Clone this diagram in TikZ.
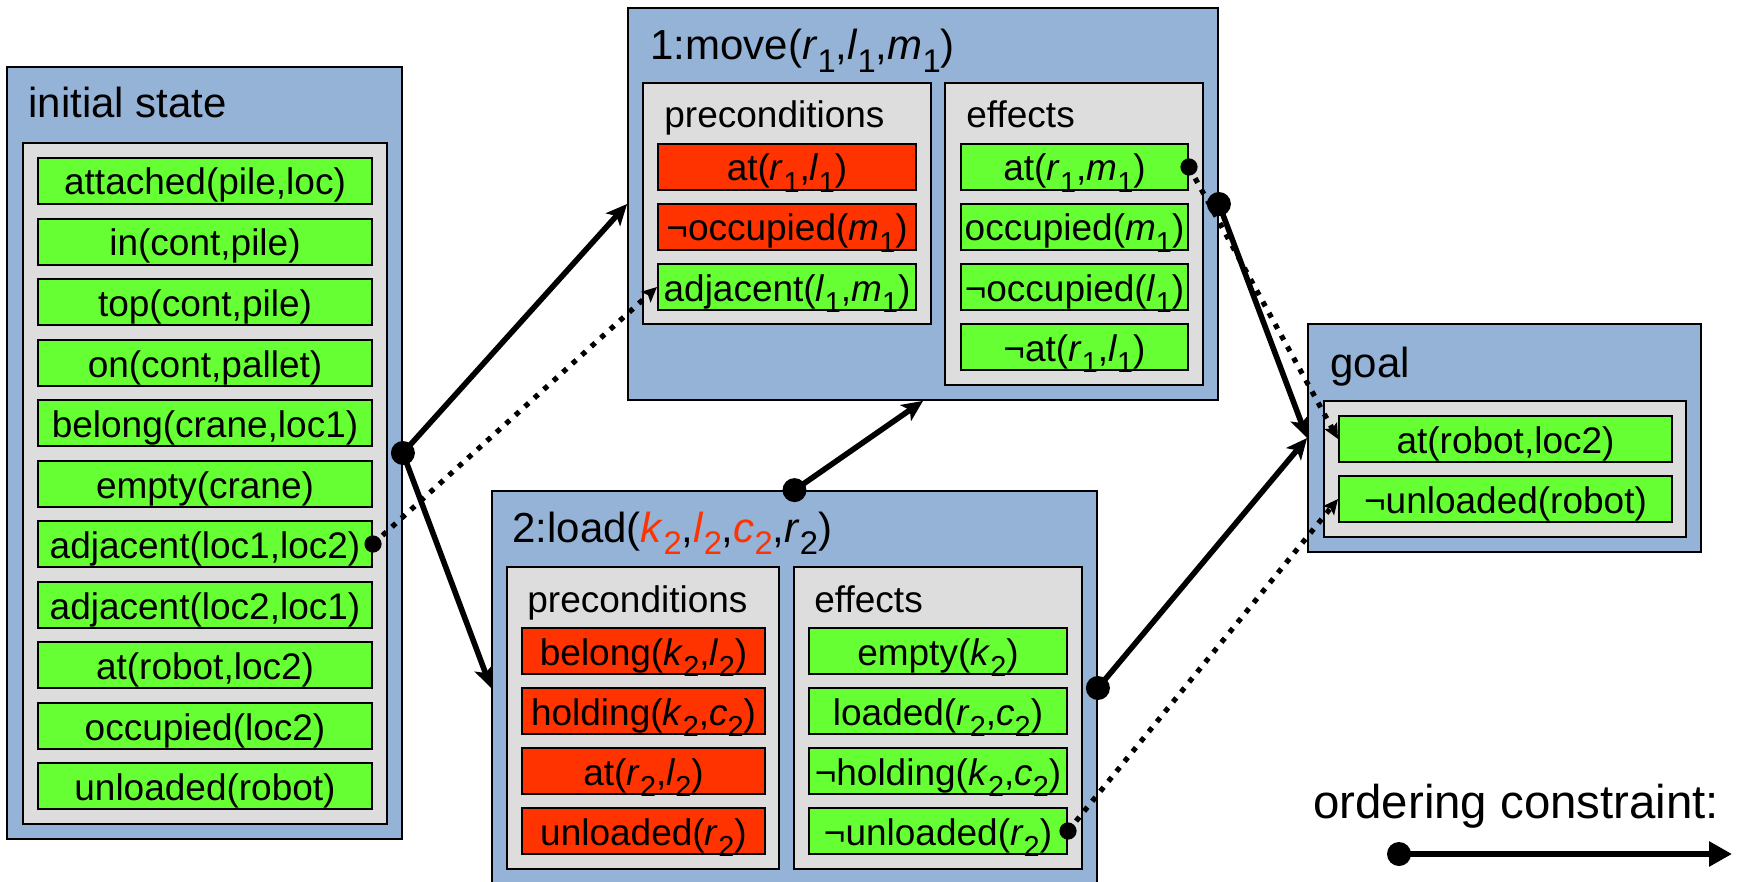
\documentclass[tikz,border=0pt]{standalone}
\usepackage{fontspec}
\setmainfont{Liberation Sans}
\usetikzlibrary{arrows.meta,fit}
\definecolor{boxblue}{HTML}{95B3D7}
\definecolor{boxgray}{HTML}{DDDDDD}
\definecolor{itemgreen}{HTML}{66FF33}
\definecolor{itemred}{HTML}{FF3300}
\definecolor{hired}{HTML}{FF3300}
\newcommand\subdig[1]{\raisebox{-0.3em}{\scalebox{0.78}{#1}}}
\newcommand\sbv[2]{\textit{#1}\subdig{#2}}
\newcommand\rsbv[2]{\textcolor{hired}{\textit{#1}\subdig{#2}}}
\newcommand\itemfont{\fontsize{18.5pt}{21pt}\selectfont}
\newcommand\titlefont{\fontsize{21pt}{24pt}\selectfont}
\newcommand\legfont{\fontsize{23.7pt}{27pt}\selectfont}
\begin{document}
\begin{tikzpicture}[x=0.5pt,y=-0.5pt,
  bluebox/.style={draw=black, line width=0.9pt, fill=boxblue, inner sep=0pt},
  graybox/.style={draw=black, line width=0.9pt, fill=boxgray, inner sep=0pt},
  gitem/.style={draw=black, line width=1pt, fill=itemgreen, inner sep=0pt, font=\itemfont},
  ritem/.style={draw=black, line width=1pt, fill=itemred, inner sep=0pt, font=\itemfont},
  tpos/.style={text height=18.5pt, text depth=4.5pt},
  boxtitle/.style={anchor=base west, inner sep=0pt, font=\titlefont},
  subtitle/.style={anchor=base west, inner sep=0pt, font=\itemfont},
  conn/.style={line width=2.8pt, -{Stealth[length=10.5pt,width=9.5pt,inset=2.5pt]}},
  dconn/.style={line width=2.6pt, dash pattern=on 2.6pt off 3.8pt, -{Stealth[length=7.5pt,width=7pt,inset=1.5pt]}},
  legconn/.style={line width=3pt, -{Triangle[length=11.5pt,width=12pt]}},
]
\useasboundingbox (0,0) rectangle (1738,882);
\clip (0,0) rectangle (1738,882);

% ---------- initial state ----------
\node[bluebox, fit={(7,67) (402,839)}] (init) {};
\node[boxtitle] (inittitle) at (28,118) {initial state};
\node[graybox, fit={(23,143) (387,824)}] (initg) {};
\node[gitem, fit={(38,158) (372,204)}, tpos] (s1) {attached(pile,loc)};
\node[gitem, fit={(38,219) (372,265)}, tpos] (s2) {in(cont,pile)};
\node[gitem, fit={(38,279) (372,325)}, tpos] (s3) {top(cont,pile)};
\node[gitem, fit={(38,340) (372,386)}, tpos] (s4) {on(cont,pallet)};
\node[gitem, fit={(38,400) (372,446)}, tpos] (s5) {belong(crane,loc1)};
\node[gitem, fit={(38,461) (372,507)}, tpos] (s6) {empty(crane)};
\node[gitem, fit={(38,521) (372,567)}, tpos] (s7) {adjacent(loc1,loc2)};
\node[gitem, fit={(38,582) (372,628)}, tpos] (s8) {adjacent(loc2,loc1)};
\node[gitem, fit={(38,642) (372,688)}, tpos] (s9) {at(robot,loc2)};
\node[gitem, fit={(38,703) (372,749)}, tpos] (s10) {occupied(loc2)};
\node[gitem, fit={(38,763) (372,809)}, tpos] (s11) {unloaded(robot)};

% ---------- 1:move ----------
\node[bluebox, fit={(628,8) (1218,400)}] (move) {};
\node[boxtitle] (movetitle) at (650,60) {1:move(\sbv{r}{1},\sbv{l}{1},\sbv{m}{1})};
\node[graybox, fit={(643,83) (931,324)}] (movepre) {};
\node[subtitle] (movepret) at (664,128) {preconditions};
\node[ritem, fit={(658,144) (916,190)}, tpos] (mp1) {at(\sbv{r}{1},\sbv{l}{1})};
\node[ritem, fit={(658,204) (916,250)}, tpos] (mp2) {¬occupied(\sbv{m}{1})};
\node[gitem, fit={(658,264) (916,310)}, tpos] (mp3) {adjacent(\sbv{l}{1},\sbv{m}{1})};
\node[graybox, fit={(945,83) (1203,385)}] (moveeff) {};
\node[subtitle] (moveefft) at (966,128) {effects};
\node[gitem, fit={(961,144) (1188,190)}, tpos] (me1) {at(\sbv{r}{1},\sbv{m}{1})};
\node[gitem, fit={(961,204) (1188,250)}, tpos] (me2) {occupied(\sbv{m}{1})};
\node[gitem, fit={(961,264) (1188,310)}, tpos] (me3) {¬occupied(\sbv{l}{1})};
\node[gitem, fit={(961,324) (1188,370)}, tpos] (me4) {¬at(\sbv{r}{1},\sbv{l}{1})};

% ---------- 2:load ----------
\node[bluebox, fit={(492,491) (1097,885)}] (load) {};
\node[boxtitle] (loadtitle) at (512,542) {2:load(\rsbv{k}{2},\rsbv{l}{2},\rsbv{c}{2},\sbv{r}{2})};
\node[graybox, fit={(507,567) (779,869)}] (loadpre) {};
\node[subtitle] (loadpret) at (527,612) {preconditions};
\node[ritem, fit={(522,628) (765,674)}, tpos] (lp1) {belong(\sbv{k}{2},\sbv{l}{2})};
\node[ritem, fit={(522,688) (765,734)}, tpos] (lp2) {holding(\sbv{k}{2},\sbv{c}{2})};
\node[ritem, fit={(522,748) (765,794)}, tpos] (lp3) {at(\sbv{r}{2},\sbv{l}{2})};
\node[ritem, fit={(522,808) (765,854)}, tpos] (lp4) {unloaded(\sbv{r}{2})};
\node[graybox, fit={(794,567) (1082,869)}] (loadeff) {};
\node[subtitle] (loadefft) at (814,612) {effects};
\node[gitem, fit={(809,628) (1067,674)}, tpos] (le1) {empty(\sbv{k}{2})};
\node[gitem, fit={(809,688) (1067,734)}, tpos] (le2) {loaded(\sbv{r}{2},\sbv{c}{2})};
\node[gitem, fit={(809,748) (1067,794)}, tpos] (le3) {¬holding(\sbv{k}{2},\sbv{c}{2})};
\node[gitem, fit={(809,808) (1067,854)}, tpos] (le4) {¬unloaded(\sbv{r}{2})};

% ---------- goal ----------
\node[bluebox, fit={(1308,324) (1701,552)}] (goal) {};
\node[boxtitle] (goaltitle) at (1330,377) {goal};
\node[graybox, fit={(1324,401) (1686,537)}] (goalg) {};
\node[gitem, fit={(1339,416) (1672,462)}, tpos] (g1) {at(robot,loc2)};
\node[gitem, fit={(1339,476) (1672,522)}, tpos] (g2) {¬unloaded(robot)};

% ---------- legend ----------
\node[anchor=base west, inner sep=0pt, font=\legfont] (legtext) at (1313,818) {ordering constraint:};
\coordinate (legA) at (1399,854);
\coordinate (legB) at (1732,854);

% ---------- connectors ----------
\draw[dconn] (s7.east) -- (mp3.west);
\draw[dconn] (me1.east) -- (g1.west);
\draw[dconn] (le4.east) -- (g2.west);
\fill (s7.east) circle[radius=4.3pt];
\fill (me1.east) circle[radius=4.3pt];
\fill (le4.east) circle[radius=4.3pt];

\draw[conn] (init.east) -- (move.west);
\draw[conn] (init.east) -- (load.west);
\draw[conn] (load.north) -- (move.south);
\draw[conn] (move.east) -- (goal.west);
\draw[conn] (load.east) -- (goal.west);
\fill (init.east) circle[radius=6pt];
\fill (load.north) circle[radius=6pt];
\fill (move.east) circle[radius=6pt];
\fill (load.east) circle[radius=6pt];

\draw[legconn] (legA) -- (legB);
\fill (legA) circle[radius=6pt];
\end{tikzpicture}
\end{document}
